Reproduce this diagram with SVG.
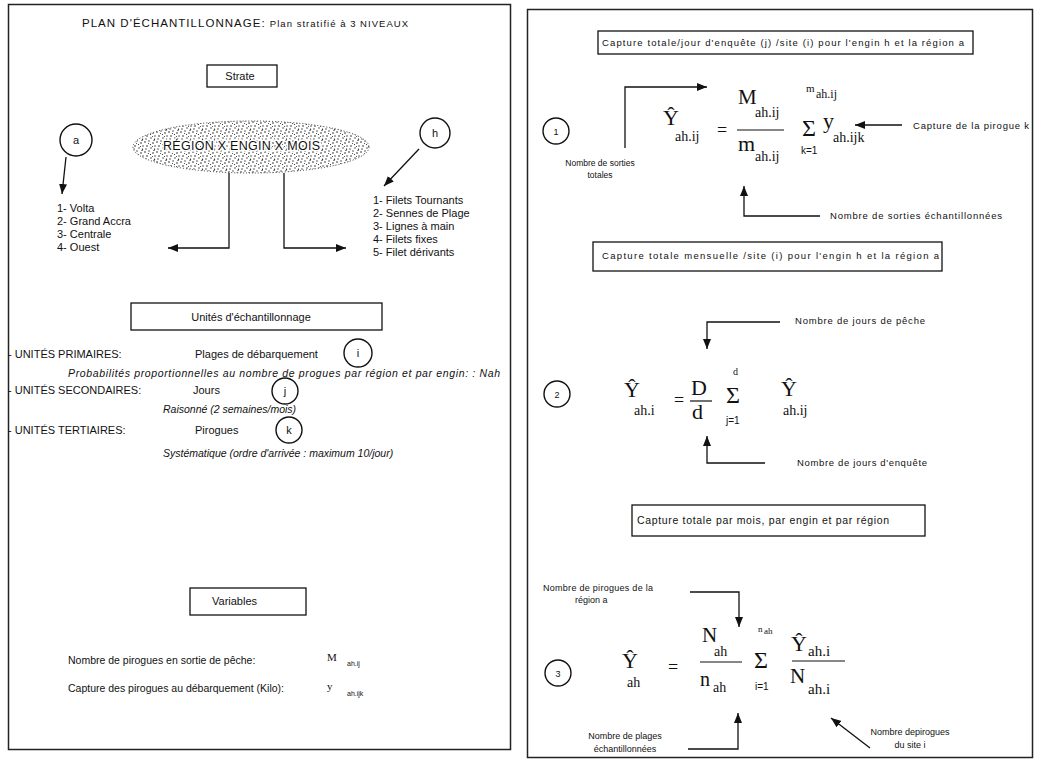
<svg xmlns="http://www.w3.org/2000/svg" width="1051" height="767" viewBox="0 0 1051 767">
<defs>
<style>
.s{font-family:"Liberation Sans",Arial,sans-serif;fill:#111}
.m{font-family:"Liberation Serif","Times New Roman",serif;fill:#111}
.i{font-style:italic}
.box{fill:#fff;stroke:#111;stroke-width:1.3}
.pan{fill:#fff;stroke:#222;stroke-width:1.5}
.cir{fill:none;stroke:#111;stroke-width:1.4}
.ln{fill:none;stroke:#111;stroke-width:1.3}
.fr{stroke:#111;stroke-width:1.2}
</style>
<marker id="ar" viewBox="0 0 10 8" refX="10" refY="4" markerWidth="10" markerHeight="8" markerUnits="userSpaceOnUse" orient="auto">
<path d="M0,0 L10,4 L0,8 z" fill="#111"/>
</marker>
<pattern id="stip" width="12" height="10" patternUnits="userSpaceOnUse">
<circle cx="1" cy="2" r="0.8" fill="#222"/><circle cx="5" cy="1" r="0.7" fill="#222"/><circle cx="9" cy="3" r="0.8" fill="#222"/>
<circle cx="11" cy="6" r="0.7" fill="#222"/><circle cx="3" cy="6" r="0.8" fill="#222"/><circle cx="7" cy="8" r="0.7" fill="#222"/>
<circle cx="10.5" cy="9.3" r="0.7" fill="#222"/><circle cx="2" cy="9" r="0.7" fill="#222"/><circle cx="6.5" cy="4.5" r="0.6" fill="#222"/>
<circle cx="10" cy="0.5" r="0.6" fill="#222"/><circle cx="4.5" cy="3.5" r="0.5" fill="#222"/><circle cx="8.5" cy="6.5" r="0.5" fill="#222"/>
</pattern>
</defs>
<rect width="1051" height="767" fill="#fff"/>

<!-- LEFT PANEL -->
<g id="left-panel">
<rect class="pan" x="8.5" y="4.5" width="502" height="745"/>
<text class="s" x="82" y="27" font-size="11.5" textLength="326">PLAN D'ÉCHANTILLONNAGE: <tspan font-size="9.5">Plan stratifié à 3 NIVEAUX</tspan></text>
</g>

<g id="strate">
<rect class="box" x="207" y="65" width="70" height="22"/>
<text class="s" x="240" y="80" font-size="11" text-anchor="middle">Strate</text>
</g>

<g id="stratum-ellipse">
<ellipse cx="251" cy="147" rx="118" ry="26" fill="url(#stip)" stroke="#333" stroke-width="1" stroke-dasharray="1 2"/>
<text class="s" x="163" y="150" font-size="12.5" textLength="157" stroke="#fff" stroke-width="3" paint-order="stroke">RÉGION X ENGIN X MOIS</text>
</g>

<g id="node-a">
<circle class="cir" cx="76" cy="140" r="16"/>
<text class="s" x="76" y="144" font-size="11" text-anchor="middle">a</text>
</g>
<g id="node-h">
<circle class="cir" cx="435" cy="133" r="15"/>
<text class="s" x="435" y="137" font-size="11" text-anchor="middle">h</text>
</g>

<g id="regions-list" class="s" font-size="11">
<text x="57" y="212">1- Volta</text>
<text x="57" y="225">2- Grand Accra</text>
<text x="57" y="238">3- Centrale</text>
<text x="57" y="251">4- Ouest</text>
</g>
<g id="engins-list" class="s" font-size="11">
<text x="373" y="204">1- Filets Tournants</text>
<text x="373" y="217">2- Sennes de Plage</text>
<text x="373" y="230">3- Lignes à main</text>
<text x="373" y="243">4- Filets fixes</text>
<text x="373" y="256">5- Filet dérivants</text>
</g>

<g id="unites-box">
<rect class="box" x="131" y="303" width="251" height="27"/>
<text class="s" x="251" y="321" font-size="11" text-anchor="middle">Unités d'échantillonnage</text>
</g>

<g id="unites" class="s" font-size="11">
<text x="8" y="358">- UNITÉS PRIMAIRES:</text>
<text x="195" y="358">Plages de débarquement</text>
<text class="s i" x="68" y="377" font-size="10.5" textLength="432">Probabilités proportionnelles  au nombre de progues par région et par engin: : Nah</text>
<text x="8" y="394">- UNITÉS SECONDAIRES:</text>
<text x="193" y="394">Jours</text>
<text class="s i" x="163" y="413" font-size="10.5">Raisonné (2 semaines/mois)</text>
<text x="8" y="434">- UNITÉS TERTIAIRES:</text>
<text x="195" y="434">Pirogues</text>
<text class="s i" x="163" y="457" font-size="10.5">Systématique (ordre d'arrivée : maximum  10/jour)</text>
</g>
<g id="node-i"><circle class="cir" cx="358" cy="353" r="14"/><text class="s" x="358" y="357" font-size="11" text-anchor="middle">i</text></g>
<g id="node-j"><circle class="cir" cx="285" cy="391" r="13"/><text class="s" x="285" y="395" font-size="11" text-anchor="middle">j</text></g>
<g id="node-k"><circle class="cir" cx="289" cy="430" r="13"/><text class="s" x="289" y="434" font-size="11" text-anchor="middle">k</text></g>

<g id="variables-box">
<rect class="box" x="190" y="588" width="116" height="27"/>
<text class="s" x="212" y="605" font-size="11">Variables</text>
</g>
<g id="variables" class="s" font-size="10.5">
<text x="68" y="664">Nombre de pirogues en sortie de pêche:</text>
<text class="m" x="327" y="661" font-size="11">M</text>
<text x="347" y="666" font-size="7">ah.ij</text>
<text x="68" y="692">Capture des pirogues au débarquement (Kilo):</text>
<text class="m" x="327" y="690" font-size="11">y</text>
<text x="347" y="696" font-size="7">ah.ijk</text>
</g>

<!-- RIGHT PANEL -->
<g id="right-panel">
<rect class="pan" x="527.5" y="9.5" width="505" height="748"/>
</g>

<g id="title-1">
<rect class="box" x="598" y="31" width="375" height="23"/>
<text class="s" x="602" y="46" font-size="9.5" textLength="362">Capture totale/jour d'enquête (j) /site (i)  pour l'engin h et la région a</text>
</g>

<g id="formula-1">
<circle class="cir" cx="556" cy="131" r="13"/>
<text class="s" x="556" y="135" font-size="9" text-anchor="middle">1</text>
<text class="m" x="663" y="125" font-size="22">Ŷ</text>
<text class="m" x="675" y="141" font-size="14">ah.ij</text>
<text class="m" x="717" y="136" font-size="18">=</text>
<line class="fr" x1="737" y1="130" x2="784" y2="130"/>
<text class="m" x="738" y="104" font-size="21">M</text>
<text class="m" x="755" y="117" font-size="14">ah.ij</text>
<text class="m" x="738" y="151" font-size="22">m</text>
<text class="m" x="755" y="161" font-size="14">ah.ij</text>
<text class="m" x="802" y="136" font-size="24">Σ</text>
<text class="m" x="806" y="92" font-size="11">m</text>
<text class="m" x="816" y="98" font-size="12">ah.ij</text>
<text class="s" x="801" y="154" font-size="10">k=1</text>
<text class="m" x="823" y="128" font-size="22">y</text>
<text class="m" x="833" y="142" font-size="14">ah.ijk</text>
<text class="s" x="913" y="129" font-size="9.5" textLength="116">Capture de la pirogue k</text>
<text class="s" x="600" y="166" font-size="8.5" text-anchor="middle">Nombre de sorties</text>
<text class="s" x="600" y="178" font-size="8.5" text-anchor="middle">totales</text>
<text class="s" x="830" y="219" font-size="9.5" textLength="172">Nombre de sorties échantillonnées</text>
</g>

<g id="title-2">
<rect class="box" x="593" y="242" width="349" height="29"/>
<text class="s" x="602" y="259" font-size="9.5" textLength="337">Capture totale mensuelle /site (i)  pour l'engin h et la région a</text>
</g>

<g id="formula-2">
<text class="s" x="795" y="324" font-size="9.5" textLength="130">Nombre de jours de pêche</text>
<circle class="cir" cx="557" cy="394" r="13"/>
<text class="s" x="557" y="398" font-size="9" text-anchor="middle">2</text>
<text class="m" x="624" y="397" font-size="22">Ŷ</text>
<text class="m" x="634" y="415" font-size="14">ah.i</text>
<text class="m" x="674" y="406" font-size="18">=</text>
<text class="m" x="691" y="395" font-size="22">D</text>
<line class="fr" x1="690" y1="401" x2="712" y2="401"/>
<text class="m" x="692" y="419" font-size="22">d</text>
<text class="m" x="733" y="375" font-size="10">d</text>
<text class="m" x="726" y="403" font-size="24">Σ</text>
<text class="s" x="726" y="424" font-size="10">j=1</text>
<text class="m" x="781" y="396" font-size="22">Ŷ</text>
<text class="m" x="783" y="415" font-size="14">ah.ij</text>
<text class="s" x="797" y="466" font-size="9.5" textLength="130">Nombre de jours d'enquête</text>
</g>

<g id="title-3">
<rect class="box" x="632" y="505" width="293" height="31"/>
<text class="s" x="637" y="524" font-size="10.5" textLength="252">Capture totale par mois, par engin et par région</text>
</g>

<g id="formula-3">
<text class="s" x="543" y="591" font-size="9" textLength="110">Nombre de pirogues de la</text>
<text class="s" x="575" y="603" font-size="9">région a</text>
<circle class="cir" cx="558" cy="673" r="13"/>
<text class="s" x="558" y="677" font-size="9" text-anchor="middle">3</text>
<text class="m" x="622" y="668" font-size="22">Ŷ</text>
<text class="m" x="627" y="687" font-size="14">ah</text>
<text class="m" x="668" y="673" font-size="18">=</text>
<text class="m" x="702" y="642" font-size="21">N</text>
<text class="m" x="714" y="656" font-size="14">ah</text>
<line class="fr" x1="700" y1="662" x2="742" y2="662"/>
<text class="m" x="700" y="686" font-size="20">n</text>
<text class="m" x="713" y="692" font-size="14">ah</text>
<text class="m" x="754" y="668" font-size="24">Σ</text>
<text class="m" x="758" y="632" font-size="9">n</text>
<text class="m" x="764" y="634" font-size="9">ah</text>
<text class="s" x="755" y="690" font-size="10">i=1</text>
<text class="m" x="791" y="651" font-size="22">Ŷ</text>
<text class="m" x="808" y="656" font-size="15">ah.i</text>
<line class="fr" x1="792" y1="661" x2="845" y2="661"/>
<text class="m" x="790" y="683" font-size="21">N</text>
<text class="m" x="808" y="694" font-size="15">ah.i</text>
<text class="s" x="625" y="739" font-size="9" text-anchor="middle">Nombre de plages</text>
<text class="s" x="625" y="752" font-size="9" text-anchor="middle">échantillonnées</text>
<text class="s" x="910" y="735" font-size="9" text-anchor="middle">Nombre depirogues</text>
<text class="s" x="910" y="748" font-size="9" text-anchor="middle">du site i</text>
</g>

<g id="connectors" class="ln">
<line x1="66" y1="157" x2="62" y2="194" marker-end="url(#ar)"/>
<line x1="419" y1="149" x2="384" y2="186" marker-end="url(#ar)"/>
<path d="M229,173 V248 H168" marker-end="url(#ar)"/>
<path d="M284,173 V248 H346" marker-end="url(#ar)"/>
<path d="M625,148 V87 H707" marker-end="url(#ar)"/>
<line x1="902" y1="125" x2="855" y2="125" marker-end="url(#ar)"/>
<path d="M820,216 H744 V186" marker-end="url(#ar)"/>
<path d="M780,322 H707 V349" marker-end="url(#ar)"/>
<path d="M765,463 H707 V436" marker-end="url(#ar)"/>
<path d="M690,592 H739 V627" marker-end="url(#ar)"/>
<path d="M688,749 H738 V713" marker-end="url(#ar)"/>
<line x1="870" y1="748" x2="831" y2="718" marker-end="url(#ar)"/>
</g>
</svg>
